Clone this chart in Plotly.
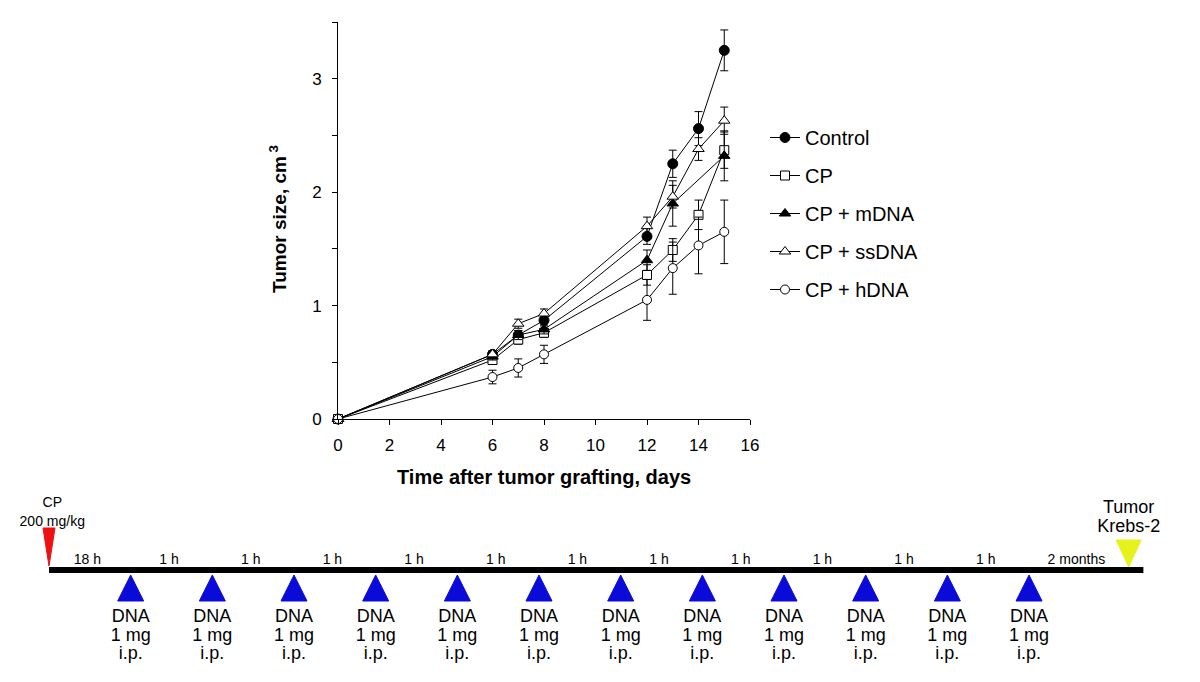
import plotly.graph_objects as go

# ---------------- data ----------------
days = [0, 6, 7, 8, 12, 13, 14, 15]
series_names = ["Control", "CP", "CP + mDNA", "CP + ssDNA", "CP + hDNA"]
control = [0, 0.57, 0.74, 0.87, 1.61, 2.25, 2.56, 3.25]
control_err = [0, 0.03, 0.04, 0.05, 0.07, 0.12, 0.15, 0.18]
cp = [0, 0.52, 0.70, 0.76, 1.27, 1.49, 1.80, 2.37]
cp_err = [0, 0.03, 0.04, 0.04, 0.09, 0.10, 0.13, 0.16]
mdna = [0, 0.55, 0.74, 0.79, 1.40, 1.90, None, 2.32]
mdna_err = [0, 0.03, 0.04, 0.04, 0.09, 0.20, None, 0.22]
ssdna = [0, 0.57, 0.84, 0.93, 1.70, 1.96, 2.38, 2.63]
ssdna_err = [0, 0.03, 0.04, 0.04, 0.08, 0.10, 0.10, 0.12]
hdna = [0, 0.37, 0.45, 0.57, 1.05, 1.33, 1.53, 1.65]
hdna_err = [0, 0.06, 0.08, 0.08, 0.18, 0.23, 0.25, 0.28]

x_ticks = [0, 2, 4, 6, 8, 10, 12, 14, 16]
y_ticks = [0, 1, 2, 3]

# timeline (event positions in injection "slots")
cp_dose_pos = [0]
dna_dose_pos = [1, 2, 3, 4, 5, 6, 7, 8, 9, 10, 11, 12]
tumor_pos = [13.22]
timeline_end = 13.4
interval_labels = ["18 h"] + ["1 h"] * 11 + ["2 months"]
dna_label_lines = ["DNA", "1 mg", "i.p."]

FONT = "Liberation Sans, Arial, sans-serif"
W, H = 1200, 682

fig = go.Figure()

styles = [
    dict(symbol="circle", size=10, color="black", line=dict(color="black", width=1)),
    dict(symbol="square", size=9, color="white", line=dict(color="black", width=1)),
    dict(symbol="triangle-up", size=10, color="black", line=dict(color="black", width=1)),
    dict(symbol="triangle-up", size=10, color="white", line=dict(color="black", width=1)),
    dict(symbol="circle", size=9, color="white", line=dict(color="black", width=1)),
]
values = [control, cp, mdna, ssdna, hdna]
errors = [control_err, cp_err, mdna_err, ssdna_err, hdna_err]

for i, (name, vals, errs, st) in enumerate(zip(series_names, values, errors, styles)):
    fig.add_trace(go.Scatter(
        x=days, y=vals, name=name, mode="lines+markers",
        connectgaps=True, cliponaxis=False,
        line=dict(color="black", width=1),
        marker=st,
        error_y=dict(type="data", array=[e if e is not None else 0 for e in errs],
                     visible=True, color="black", thickness=1, width=4),
        legendgroup=name,
        xaxis="x", yaxis="y",
    ))

# ---------------- timeline ----------------
PX_PER_SLOT = 81.67
fig.add_trace(go.Scatter(
    x=[cp_dose_pos[0], timeline_end], y=[0, 0], mode="lines",
    line=dict(color="black", width=6), showlegend=False, hoverinfo="skip",
    xaxis="x2", yaxis="y2"))


def tri(center, half_w, base, apex):
    return [center - half_w, center + half_w, center, center - half_w], [base, base, apex, base]


for p in dna_dose_pos:
    tx, ty = tri(p, 13 / PX_PER_SLOT, -31, -5)
    fig.add_trace(go.Scatter(x=tx, y=ty, mode="lines", fill="toself",
                             fillcolor="#0b0bd9", line=dict(color="#0b0bd9", width=1),
                             showlegend=False, hoverinfo="skip", xaxis="x2", yaxis="y2"))
for p in cp_dose_pos:
    tx, ty = tri(p, 6 / PX_PER_SLOT, 42, 4)
    fig.add_trace(go.Scatter(x=tx, y=ty, mode="lines", fill="toself",
                             fillcolor="#ee1111", line=dict(color="#ee1111", width=1),
                             showlegend=False, hoverinfo="skip", xaxis="x2", yaxis="y2"))
for p in tumor_pos:
    tx, ty = tri(p, 12.5 / PX_PER_SLOT, 30, 3)
    fig.add_trace(go.Scatter(x=tx, y=ty, mode="lines", fill="toself",
                             fillcolor="#e6f21c", line=dict(color="#e6f21c", width=1),
                             showlegend=False, hoverinfo="skip", xaxis="x2", yaxis="y2"))

# DNA labels
for row, (txt, yy) in enumerate(zip(dna_label_lines, [-47, -66, -84])):
    fig.add_trace(go.Scatter(x=dna_dose_pos, y=[yy] * len(dna_dose_pos), mode="text",
                             text=[txt] * len(dna_dose_pos), textposition="middle center",
                             textfont=dict(family=FONT, size=18, color="black"),
                             showlegend=False, hoverinfo="skip", xaxis="x2", yaxis="y2"))

# interval labels at midpoints between events
events = cp_dose_pos + dna_dose_pos + tumor_pos
mids = [(a + b) / 2 - 0.03 for a, b in zip(events[:-1], events[1:])]
fig.add_trace(go.Scatter(x=mids, y=[10] * len(mids), mode="text", text=interval_labels,
                         textposition="middle center",
                         textfont=dict(family=FONT, size=14, color="black"),
                         showlegend=False, hoverinfo="skip", xaxis="x2", yaxis="y2"))

# CP label and Tumor label
fig.add_trace(go.Scatter(x=[cp_dose_pos[0] + 0.04] * 2, y=[67, 48], mode="text",
                         text=["CP", "200 mg/kg"], textposition="middle center",
                         textfont=dict(family=FONT, size=14, color="black"),
                         showlegend=False, hoverinfo="skip", xaxis="x2", yaxis="y2"))
fig.add_trace(go.Scatter(x=[tumor_pos[0]] * 2, y=[62, 43], mode="text",
                         text=["Tumor", "Krebs-2"], textposition="middle center",
                         textfont=dict(family=FONT, size=18, color="black"),
                         showlegend=False, hoverinfo="skip", xaxis="x2", yaxis="y2"))

# ---------------- layout ----------------
x_left, x_right = 338, 750
y_top, y_bot = 22, 419

fig.update_layout(
    width=W, height=H,
    margin=dict(l=0, r=0, t=0, b=0),
    paper_bgcolor="white", plot_bgcolor="rgba(0,0,0,0)",
    font=dict(family=FONT, size=17, color="black"),
    showlegend=True,
    legend=dict(x=765 / W, y=1 - 118 / H, xanchor="left", yanchor="top",
                font=dict(family=FONT, size=20, color="black"),
                tracegroupgap=9, bgcolor="rgba(0,0,0,0)", traceorder="grouped"),
    xaxis=dict(domain=[x_left / W, x_right / W], range=[0, 16], tickvals=x_ticks,
               ticks="outside", ticklen=5, tickwidth=1, tickcolor="black",
               showline=True, linecolor="black", linewidth=1, showgrid=False,
               zeroline=False, anchor="y", tickfont=dict(size=17), automargin=False,
               ticklabelstandoff=6),
    yaxis=dict(domain=[1 - y_bot / H, 1 - y_top / H], range=[0, 3.5], tickvals=y_ticks,
               ticks="outside", ticklen=5, tickwidth=1, tickcolor="black",
               minor=dict(dtick=0.5, ticks="outside", ticklen=5, tickcolor="black", tickwidth=1),
               showline=True, linecolor="black", linewidth=1, showgrid=False,
               zeroline=False, anchor="x", tickfont=dict(size=17), automargin=False,
               ticklabelstandoff=7),
    xaxis2=dict(domain=[0, 1], range=[-49 / PX_PER_SLOT, (W - 49) / PX_PER_SLOT],
                visible=False, anchor="y2", fixedrange=True),
    yaxis2=dict(domain=[0, 1], range=[-112, 570], visible=False, anchor="x2", fixedrange=True),
    annotations=[
        dict(text="<b>Time after tumor grafting, days</b>", x=544 / W, y=1 - 477 / H,
             xref="paper", yref="paper", showarrow=False, xanchor="center", yanchor="middle",
             font=dict(family=FONT, size=20, color="black")),
        dict(text="<b>Tumor size, cm<sup> 3</sup></b>", x=278 / W, y=1 - 219 / H,
             xref="paper", yref="paper", showarrow=False, xanchor="center", yanchor="middle",
             textangle=-90, font=dict(family=FONT, size=19, color="black")),
    ],
)

fig.write_html("out.html", config={"displayModeBar": False},
               post_script="document.body.style.margin='0px';")
